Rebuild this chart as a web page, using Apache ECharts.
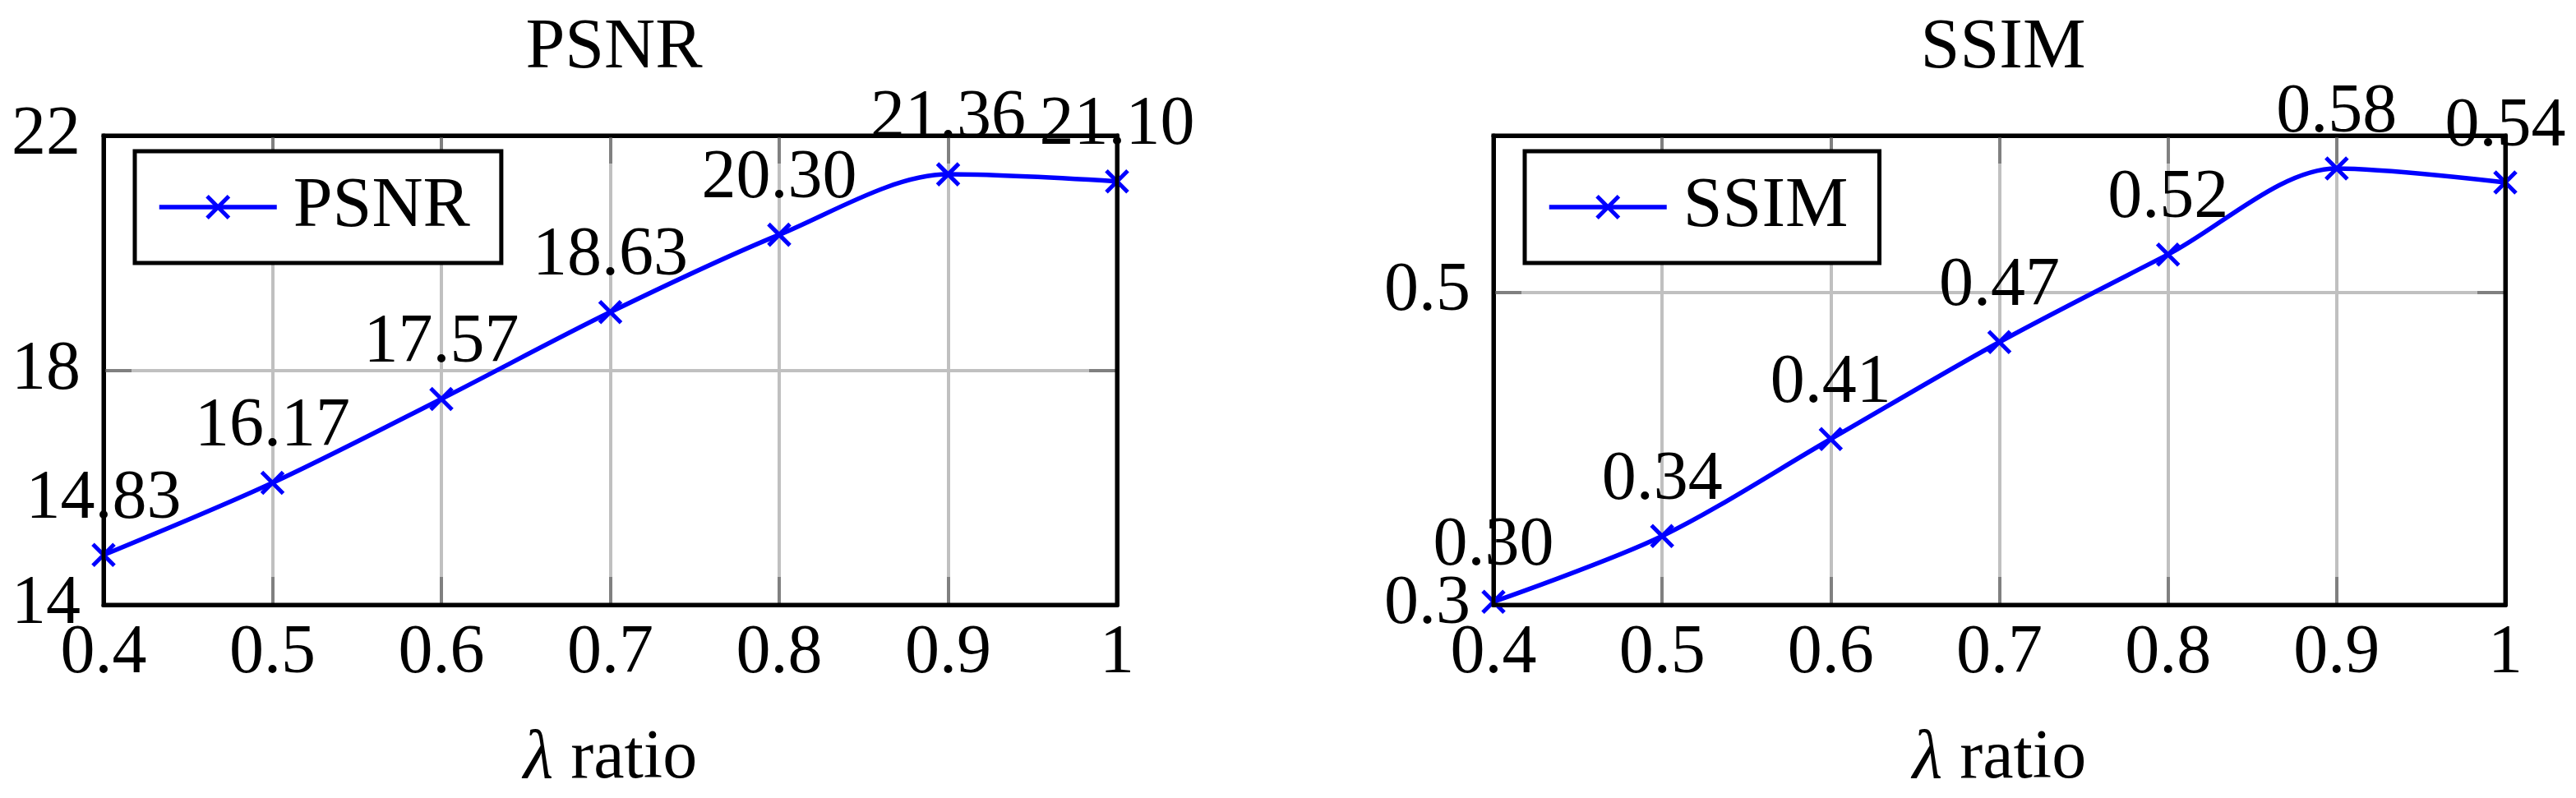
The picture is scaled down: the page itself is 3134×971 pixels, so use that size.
<!DOCTYPE html>
<html>
<head>
<meta charset="utf-8">
<script src="https://cdn.jsdelivr.net/npm/echarts@6/dist/echarts.min.js"></script>
<style>
html,body{margin:0;padding:0;background:#fff;}
#chart{width:3134px;height:971px;}
</style>
</head>
<body>
<div id="chart"></div>
<script>
// ---- data ----
const xValues = [0.4, 0.5, 0.6, 0.7, 0.8, 0.9, 1.0];
// plotted positions and the printed labels
const psnrValues = [14.85, 16.08, 17.51, 18.99, 20.31, 21.34, 21.22];
const psnrLabels = ['14.83', '16.17', '17.57', '18.63', '20.30', '21.36', '21.10'];
const ssimValues = [0.302, 0.344, 0.406, 0.468, 0.524, 0.579, 0.570];
const ssimLabels = ['0.30', '0.34', '0.41', '0.47', '0.52', '0.58', '0.54'];
const psnrRange = [14, 22, 4];
const ssimRange = [0.3, 0.6, 0.2];
const titles = ['PSNR', 'SSIM'];
const xName = '{i|λ} ratio';

const FONT = 'Liberation Serif';
const FS = 84;
const chart = echarts.init(document.getElementById('chart'), null, {renderer: 'canvas'});

const frameLine = {show: true, onZero: false, lineStyle: {color: '#000', width: 5}};
const tick = {show: true, inside: true, length: 34, lineStyle: {color: '#808080', width: 4}};
const split = {show: true, showMinLine: false, showMaxLine: false, lineStyle: {color: '#c0c0c0', width: 4}};
const labelStyle = {fontFamily: FONT, fontSize: FS, color: '#000'};

function xAxes(gi) {
  const base = {type: 'value', gridIndex: gi, min: 0.4, max: 1, interval: 0.1,
    axisLine: frameLine, axisTick: tick, z: 3};
  return [
    Object.assign({}, base, {position: 'bottom', splitLine: split, z: 2,
      axisLabel: Object.assign({margin: 18, formatter: v => String(+v.toFixed(1))}, labelStyle),
      name: xName, nameLocation: 'middle', nameGap: 146,
      nameTextStyle: Object.assign({rich: {i: {fontFamily: FONT, fontSize: FS, fontStyle: 'italic', color: '#000'}}}, labelStyle)}),
    Object.assign({}, base, {position: 'top', splitLine: {show: false}, axisLabel: {show: false}})
  ];
}
function yAxes(gi, r, fmt) {
  const base = {type: 'value', gridIndex: gi, min: r[0], max: r[1], interval: r[2],
    axisLine: frameLine, axisTick: tick, z: 3};
  return [
    Object.assign({}, base, {position: 'left', splitLine: split, z: 2,
      axisLabel: Object.assign({margin: 28, formatter: fmt}, labelStyle)}),
    Object.assign({}, base, {position: 'right', splitLine: {show: false}, axisLabel: {show: false}})
  ];
}

const seriesCommon = {
  type: 'line', smooth: 0.31, clip: false,
  symbol: 'path://M0,0L20,20M20,0L0,20', symbolSize: 26,
  lineStyle: {color: '#0000ff', width: 5.5},
  itemStyle: {color: '#0000ff', borderColor: '#0000ff', borderWidth: 5},
  label: Object.assign({show: true, position: 'top', distance: 10}, labelStyle),
  emphasis: {disabled: true},
  z: 5
};

const legendCommon = {
  orient: 'horizontal', top: 184,
  backgroundColor: '#fff', borderColor: '#000', borderWidth: 5,
  padding: [23, 38, 23, 27],
  itemWidth: 143, itemHeight: 33,
  lineStyle: {color: '#0000ff', width: 5.5},
  itemStyle: {color: '#0000ff', borderColor: '#0000ff', borderWidth: 5},
  textStyle: Object.assign({padding: [0, 0, 0, 15], lineHeight: 90}, labelStyle, {fontSize: 86}),
  selectedMode: false
};

const titleStyle = {fontFamily: FONT, fontSize: 86, fontWeight: 'normal', color: '#000'};

chart.setOption({
  animation: false,
  backgroundColor: '#fff',
  title: [
    {text: titles[0], left: 742, top: 11, textAlign: 'center', textStyle: titleStyle},
    {text: titles[1], left: 2432, top: 11, textAlign: 'center', textStyle: titleStyle}
  ],
  grid: [
    {left: 126, right: 3134 - 1359, top: 165, bottom: 971 - 737},
    {left: 1817, right: 3134 - 3048, top: 165, bottom: 971 - 737}
  ],
  xAxis: xAxes(0).concat(xAxes(1)),
  yAxis: yAxes(0, psnrRange, v => String(v))
    .concat(yAxes(1, ssimRange, v => Math.abs(v - ssimRange[1]) < 1e-9 ? '' : String(+v.toFixed(1)))),
  legend: [
    Object.assign({}, legendCommon, {left: 164, data: [titles[0]]}),
    Object.assign({}, legendCommon, {left: 1855, data: [titles[1]]})
  ],
  series: [
    Object.assign({}, seriesCommon, {
      name: titles[0], xAxisIndex: 0, yAxisIndex: 0,
      data: xValues.map((x, i) => [x, psnrValues[i]]),
      label: Object.assign({}, seriesCommon.label, {formatter: p => psnrLabels[p.dataIndex]})
    }),
    Object.assign({}, seriesCommon, {
      name: titles[1], xAxisIndex: 2, yAxisIndex: 2,
      data: xValues.map((x, i) => [x, ssimValues[i]]),
      label: Object.assign({}, seriesCommon.label, {formatter: p => ssimLabels[p.dataIndex]})
    })
  ]
});

// black frame around each plot, placed through the axes' own scales
const ranges = [psnrRange, ssimRange];
const frames = ranges.map((r, gi) => {
  const p0 = chart.convertToPixel({xAxisIndex: gi * 2, yAxisIndex: gi * 2}, [xValues[0], r[1]]);
  const p1 = chart.convertToPixel({xAxisIndex: gi * 2, yAxisIndex: gi * 2}, [xValues[xValues.length - 1], r[0]]);
  return {type: 'rect', silent: true, z: 50,
    shape: {x: p0[0], y: p0[1], width: p1[0] - p0[0], height: p1[1] - p0[1]},
    style: {fill: 'none', stroke: '#000', lineWidth: 5}};
});
chart.setOption({graphic: frames});
</script>
</body>
</html>
